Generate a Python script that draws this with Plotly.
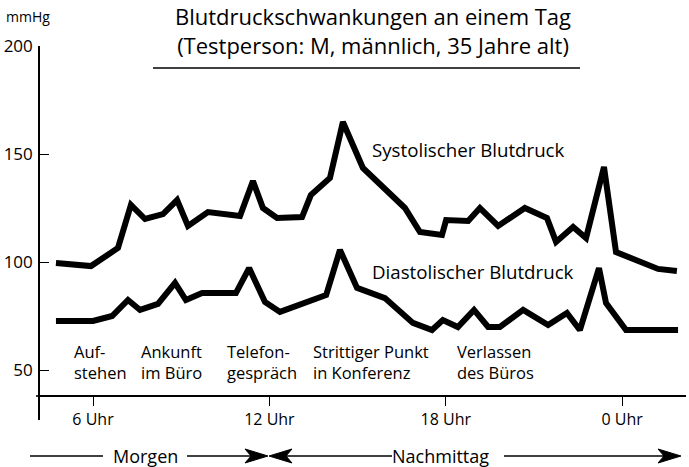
import plotly.graph_objects as go

# Stunden (Tagesverlauf, 24 = 0 Uhr) und Messwerte in mmHg
sys_hours = [4.74, 5.93, 6.85, 7.29, 7.77, 8.38, 8.86, 9.23, 9.91, 11.0, 11.44, 11.78,
             12.26, 13.11, 13.41, 14.06, 14.50, 15.18, 16.61, 17.12, 17.87, 18.01,
             18.76, 19.16, 19.78, 20.69, 21.44, 21.75, 22.33, 22.77, 23.38, 23.79,
             25.22, 25.86]
sys_values = [99.5, 98.1, 106.5, 126.4, 119.9, 122.2, 128.7, 116.7, 123.1, 121.3, 137.5,
              125.0, 120.4, 120.8, 131.0, 138.9, 164.8, 143.5, 125.0, 113.9, 112.5, 119.4,
              119.0, 125.0, 116.7, 125.0, 120.4, 109.3, 116.2, 111.1, 144.0, 104.6, 96.8,
              95.8]

dia_hours = [4.74, 6.0, 6.65, 7.19, 7.60, 8.21, 8.79, 9.16, 9.71, 10.86, 11.31, 11.85,
             12.36, 13.93, 14.40, 14.98, 15.93, 16.88, 17.53, 17.90, 18.41, 18.96,
             19.44, 19.84, 20.63, 21.48, 22.12, 22.56, 23.21, 23.45, 24.13, 25.90]
dia_values = [72.7, 72.7, 75.0, 82.4, 77.8, 80.6, 90.3, 82.4, 85.6, 85.6, 97.2, 81.5,
              76.9, 84.7, 105.6, 88.0, 83.3, 71.8, 68.5, 73.1, 69.9, 77.8, 69.9, 69.9,
              77.8, 70.8, 76.4, 68.5, 97.2, 81.0, 68.5, 68.5]

x_tickvals = [6, 12, 18, 24]
x_ticktext = ["6 Uhr", "12 Uhr", "18 Uhr", "0 Uhr"]
y_tickvals = [50, 100, 150, 200]

event_hours = [5.3, 7.55, 10.48, 13.4, 18.3]
event_labels = ["Auf-<br>stehen", "Ankunft<br>im Büro", "Telefon-<br>gespräch",
                "Strittiger Punkt<br>in Konferenz", "Verlassen<br>des Büros"]

FONT = "Open Sans"
W, H = 689, 467
L, R, T, B = 40, 3, 46, 47
PW, PH = W - L - R, H - T - B


def px(x):
    return (x - L) / PW


def py(y):
    return (H - B - y) / PH


fig = go.Figure()
fig.add_trace(go.Scatter(x=sys_hours, y=sys_values, mode="lines",
                         line=dict(color="black", width=6), showlegend=False))
fig.add_trace(go.Scatter(x=dia_hours, y=dia_values, mode="lines",
                         line=dict(color="black", width=6), showlegend=False))

annos = [
    dict(x=px(373), y=py(30), xref="paper", yref="paper", xanchor="center",
         text="Blutdruckschwankungen an einem Tag<br>(Testperson: M, männlich, 35 Jahre alt)",
         font=dict(size=22)),
    dict(x=px(4), y=py(17), xref="paper", yref="paper", xanchor="left",
         text="mmHg", font=dict(size=14)),
    dict(x=15.42, y=152.0, xanchor="left", text="Systolischer Blutdruck", font=dict(size=18.7)),
    dict(x=15.42, y=95.8, xanchor="left", text="Diastolischer Blutdruck", font=dict(size=18.7)),
    dict(x=px(145), y=py(456), xref="paper", yref="paper", xanchor="center",
         text="Morgen", font=dict(size=18)),
    dict(x=px(441), y=py(456), xref="paper", yref="paper", xanchor="center",
         text="Nachmittag", font=dict(size=18)),
]
for h, lab in zip(event_hours, event_labels):
    annos.append(dict(x=h, y=53.7, xanchor="left", align="left", text=lab, font=dict(size=16.5)))
for a in annos:
    a["showarrow"] = False
    a.setdefault("yanchor", "middle")
    fig.add_annotation(**a)

line_style = dict(color="black", width=1.3)
shapes = [
    dict(type="line", xref="paper", yref="paper", x0=px(153), x1=px(580), y0=py(68), y1=py(68),
         line=dict(color="black", width=1.6)),
    dict(type="line", xref="paper", yref="paper", x0=px(30), x1=px(103), y0=py(456), y1=py(456), line=line_style),
    dict(type="line", xref="paper", yref="paper", x0=px(187), x1=px(255), y0=py(456), y1=py(456), line=line_style),
    dict(type="line", xref="paper", yref="paper", x0=px(282), x1=px(392), y0=py(456), y1=py(456), line=line_style),
    dict(type="line", xref="paper", yref="paper", x0=px(504), x1=px(668), y0=py(456), y1=py(456), line=line_style),
    # x-Achse ragt links etwas über die y-Achse hinaus
    dict(type="line", xref="paper", yref="paper", x0=px(36), x1=px(41), y0=py(396), y1=py(396),
         line=dict(color="black", width=1.6)),
]


def head(tip, y, d):
    pts = [(tip, y), (tip - d * 23, y - 7), (tip - d * 17, y), (tip - d * 23, y + 7)]
    return "M " + " L ".join(f"{px(a):.5f},{py(b):.5f}" for a, b in pts) + " Z"


for tip, d in [(268, 1), (269, -1), (681, 1)]:
    shapes.append(dict(type="path", xref="paper", yref="paper", path=head(tip, 456, d),
                       fillcolor="black", line=dict(color="black", width=1)))
for s in shapes:
    fig.add_shape(**s)

fig.update_layout(
    width=W, height=H,
    margin=dict(l=L, r=R, t=T, b=B),
    plot_bgcolor="white", paper_bgcolor="white",
    font=dict(family=FONT, color="black"),
    xaxis=dict(range=[4.197, 26.17], tickvals=x_tickvals, ticktext=x_ticktext,
               showgrid=False, zeroline=False, showline=True, linecolor="black", linewidth=1.6,
               ticks="outside", ticklen=9, tickwidth=1.3, tickcolor="black",
               tickfont=dict(size=16), anchor="free", position=(420 - 396) / PH),
    yaxis=dict(range=[26.85, 200], tickvals=y_tickvals,
               showgrid=False, zeroline=False, showline=True, linecolor="black", linewidth=1.6,
               ticks="inside", ticklen=9, tickwidth=1.3, tickcolor="black",
               tickfont=dict(size=17), ticklabelstandoff=2),
)

# body margin weg, damit die Grafik genau im Fenster sitzt
fig.write_html("out.html", config={"displayModeBar": False},
               post_script="document.body.style.margin='0';")
